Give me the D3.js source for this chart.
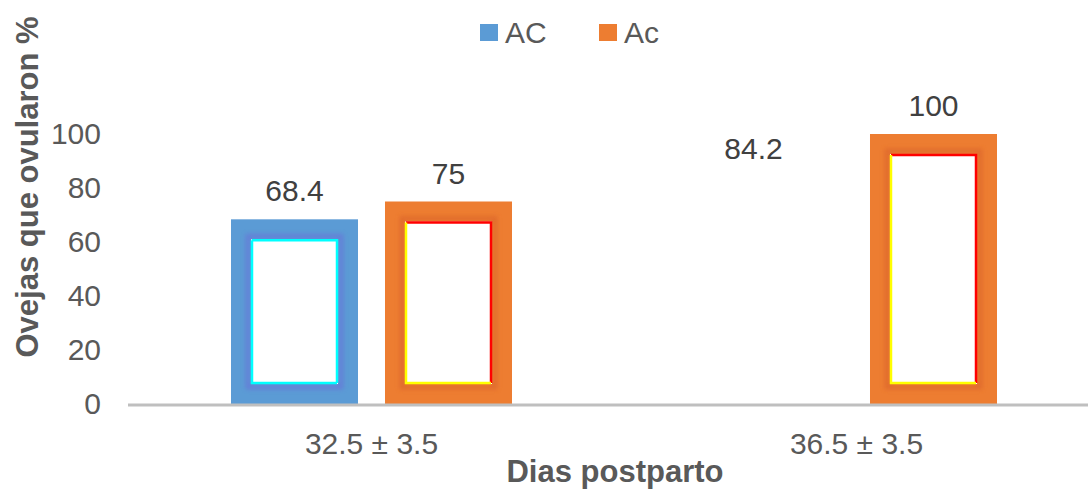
<!DOCTYPE html>
<html>
<head>
<meta charset="utf-8">
<script src="https://cdn.jsdelivr.net/npm/d3@7"></script>
<style>
  body { margin: 0; background: #fff; }
  svg { display: block; font-family: "Liberation Sans", Arial, sans-serif; }
</style>
</head>
<body>
<svg width="1088" height="492"></svg>
<script>
// chart data
var categories = ["32.5 \u00b1 3.5", "36.5 \u00b1 3.5"];
var series = ["AC", "Ac"];
var valuesAC = [68.4, 84.2];
var valuesAc = [75, 100];
var barVisible = [[true, false], [true, true]]; // the 2nd AC bar is not painted in the original
var yTicks = [0, 20, 40, 60, 80, 100];

var svg = d3.select("svg");

// scales
var x0 = d3.scaleBand().domain(categories).range([129, 1099]);
var x1 = d3.scaleBand().domain(series).range([102, 383]).paddingInner(0.1753).paddingOuter(0);
var y = d3.scaleLinear().domain([0, 100]).range([404, 134]);

var color = d3.scaleOrdinal().domain(series).range(["#5b9bd5", "#ed7d31"]);

var defs = svg.append("defs");
defs.append("filter").attr("id", "blur")
  .attr("x", "-20%").attr("y", "-20%").attr("width", "140%").attr("height", "140%")
  .append("feGaussianBlur").attr("stdDeviation", 2);

// table of bars built from the arrays
var data = [];
categories.forEach(function (c, i) {
  data.push({ cat: c, ser: "AC", value: valuesAC[i], show: barVisible[0][i] });
  data.push({ cat: c, ser: "Ac", value: valuesAc[i], show: barVisible[1][i] });
});

// y axis
var yAxis = svg.append("g")
  .attr("transform", "translate(128,0)")
  .call(d3.axisLeft(y).tickValues(yTicks).tickSize(0).tickPadding(27));
yAxis.select(".domain").remove();
yAxis.selectAll("text")
  .attr("fill", "#595959")
  .style("font-size", "30px")
  .style("font-family", "Liberation Sans, Arial, sans-serif");

// bars
var bars = svg.selectAll(".bar")
  .data(data.filter(function (d) { return d.show; }))
  .enter().append("g")
  .attr("class", "bar");

var inset = 20;

bars.append("rect")
  .attr("x", function (d) { return x0(d.cat) + x1(d.ser); })
  .attr("y", function (d) { return y(d.value); })
  .attr("width", x1.bandwidth())
  .attr("height", function (d) { return y(0) - y(d.value); })
  .attr("fill", function (d) { return color(d.ser); });

// soft darker ring before the white inside
bars.append("rect")
  .attr("x", function (d) { return x0(d.cat) + x1(d.ser) + inset - 3; })
  .attr("y", function (d) { return y(d.value) + inset - 3; })
  .attr("width", x1.bandwidth() - 2 * inset + 6)
  .attr("height", function (d) { return y(0) - y(d.value) - 2 * inset + 6; })
  .attr("fill", "none")
  .attr("stroke", function (d) { return d.ser === "AC" ? "#6a6fd8" : "#d9622a"; })
  .attr("stroke-width", 5)
  .attr("opacity", 0.6)
  .attr("filter", "url(#blur)");

bars.append("rect")
  .attr("x", function (d) { return x0(d.cat) + x1(d.ser) + inset; })
  .attr("y", function (d) { return y(d.value) + inset; })
  .attr("width", x1.bandwidth() - 2 * inset)
  .attr("height", function (d) { return y(0) - y(d.value) - 2 * inset; })
  .attr("fill", "#fff");

// thin inner edge lines
bars.each(function (d) {
  var g = d3.select(this);
  var l = x0(d.cat) + x1(d.ser) + inset + 1,
      r = x0(d.cat) + x1(d.ser) + x1.bandwidth() - inset - 1,
      t = y(d.value) + inset + 1,
      b = y(0) - inset - 1;
  var topRight = d.ser === "AC" ? "#00ffff" : "#ff0000";
  var bottomLeft = d.ser === "AC" ? "#00ffff" : "#ffff00";
  g.append("path").attr("d", "M" + l + "," + t + "H" + r + "V" + b)
    .attr("fill", "none").attr("stroke", topRight).attr("stroke-width", 2.5);
  g.append("path").attr("d", "M" + l + "," + t + "V" + b + "H" + r)
    .attr("fill", "none").attr("stroke", bottomLeft).attr("stroke-width", 2.5);
});

// axis line
svg.append("line")
  .attr("x1", 128).attr("x2", 1088)
  .attr("y1", y(0) + 1).attr("y2", y(0) + 1)
  .attr("stroke", "#bfbfbf").attr("stroke-width", 3);

// data labels
svg.selectAll(".label")
  .data(data)
  .enter().append("text")
  .attr("class", "label")
  .attr("x", function (d) { return x0(d.cat) + x1(d.ser) + x1.bandwidth() / 2 - (d.show ? 0 : 26); })
  .attr("y", function (d) { return y(d.value) - 18; })
  .attr("text-anchor", "middle")
  .attr("fill", "#404040")
  .style("font-size", "30px")
  .text(function (d) { return d.value; });

// x axis labels
var xAxis = svg.append("g")
  .attr("transform", "translate(0," + (y(0) + 1) + ")")
  .call(d3.axisBottom(x0).tickSize(0).tickPadding(28));
xAxis.select(".domain").remove();
xAxis.selectAll("text")
  .attr("fill", "#595959")
  .style("font-size", "30px")
  .style("font-family", "Liberation Sans, Arial, sans-serif");

// axis titles
svg.append("text")
  .attr("transform", "translate(38,187) rotate(-90)")
  .attr("text-anchor", "middle")
  .attr("fill", "#595959")
  .style("font-size", "31px")
  .style("font-weight", "bold")
  .text("Ovejas que ovularon %");

svg.append("text")
  .attr("x", 615).attr("y", 482)
  .attr("text-anchor", "middle")
  .attr("fill", "#595959")
  .style("font-size", "31px")
  .style("font-weight", "bold")
  .text("Dias postparto");

// legend
var legendX = [480, 599];
var legend = svg.selectAll(".legend")
  .data(series)
  .enter().append("g")
  .attr("class", "legend")
  .attr("transform", function (d, i) { return "translate(" + legendX[i] + ",0)"; });
legend.append("rect")
  .attr("x", 0).attr("y", 24).attr("width", 18).attr("height", 17)
  .attr("fill", function (d) { return color(d); });
legend.append("text")
  .attr("x", 25).attr("y", 43)
  .attr("fill", "#595959")
  .style("font-size", "30px")
  .text(function (d) { return d; });
</script>
</body>
</html>
